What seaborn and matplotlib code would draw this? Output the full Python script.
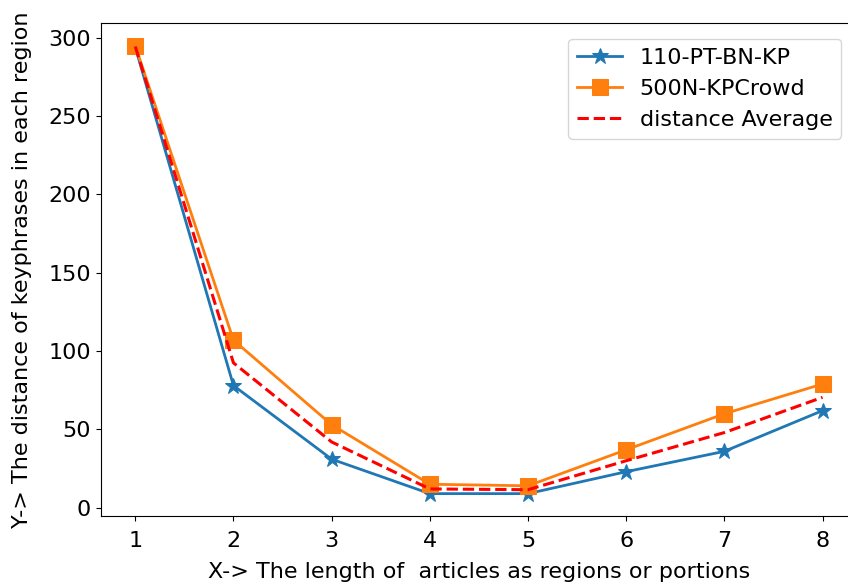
import matplotlib
matplotlib.use('Agg')
import matplotlib.pyplot as plt
import seaborn as sns

regions = [1, 2, 3, 4, 5, 6, 7, 8]
pt_bn_kp = [294, 78, 31, 9, 9, 23, 36, 62]
kpcrowd = [295, 107, 53, 15, 14, 37, 60, 79]
dist_avg = [294.5, 92.5, 42, 12, 11.5, 30, 48, 70.5]

plt.rcParams['font.size'] = 16

fig = plt.figure(figsize=(8.48, 5.88), dpi=100)
ax = fig.add_axes([0.119, 0.1224, 0.8915, 0.838])

sns.lineplot(x=regions, y=pt_bn_kp, ax=ax, color='#1f77b4', marker='*',
             markersize=12, markeredgecolor='#1f77b4', linewidth=2, label='110-PT-BN-KP')
sns.lineplot(x=regions, y=kpcrowd, ax=ax, color='#ff7f0e', marker='s',
             markersize=11, markeredgecolor='#ff7f0e', linewidth=2, label='500N-KPCrowd')
sns.lineplot(x=regions, y=dist_avg, ax=ax, color='red', linestyle='--',
             linewidth=2.2, label='distance Average')

ax.set_xlabel('X-> The length of  articles as regions or portions', labelpad=8)
ax.set_ylabel('Y-> The distance of keyphrases in each region', labelpad=12)
ax.set_yticks([0, 50, 100, 150, 200, 250, 300])
ax.tick_params(axis='x', pad=7)
ax.legend(loc='upper right', fontsize=16, borderaxespad=0.7)

fig.savefig('out.png', dpi=100)
